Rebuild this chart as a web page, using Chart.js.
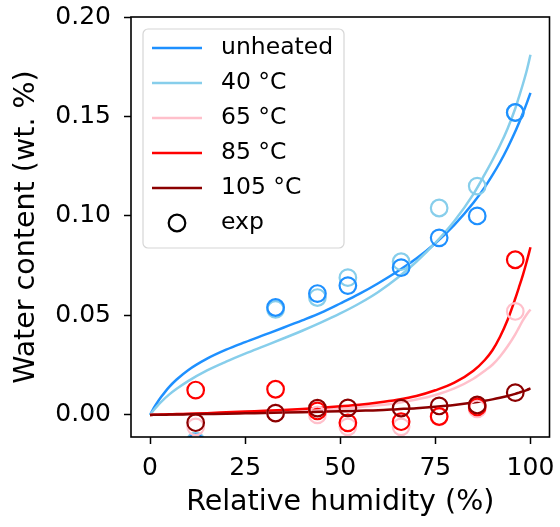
<!DOCTYPE html>
<html>
<head>
<meta charset="utf-8">
<script src="https://cdn.jsdelivr.net/npm/chart.js@4"></script>
<style>
  html, body { margin: 0; padding: 0; background: #fff; }
  canvas { display: block; }
</style>
</head>
<body>
<canvas id="c" width="560" height="527"></canvas>
<script>
// experimental points, relative humidity (%)
const humidity = [12, 33, 44, 52, 66, 76, 86, 96];
const expUnheated = [-0.014, 0.054, 0.061, 0.065, 0.074, 0.089, 0.100, 0.152];
const exp40 = [-0.013, 0.053, 0.059, 0.069, 0.077, 0.104, 0.115, 0.152];
const exp65 = [-0.006, 0.001, 0.000, -0.006, -0.006, -0.001, 0.003, 0.052];
const exp85 = [0.0125, 0.0129, 0.002, -0.004, -0.0034, -0.0008, 0.004, 0.078];
const exp105 = [-0.0039, 0.0009, 0.0034, 0.0035, 0.0034, 0.0045, 0.005, 0.0112];

// fitted curves
const fitRH = [0, 1, 2, 3, 5, 7, 10, 15, 20, 25, 30, 35, 40, 45, 50, 55, 60, 65, 70, 75, 80, 85, 88, 90, 92, 94, 96, 97, 98, 99, 100];
const fitUnheated = [0, 0.0035, 0.0065, 0.0092, 0.0140, 0.0178, 0.0225, 0.0283, 0.0328, 0.0366, 0.0402, 0.0438, 0.0475, 0.0514, 0.0560, 0.0608, 0.0662, 0.0721, 0.0786, 0.0863, 0.0955, 0.1066, 0.1145, 0.1205, 0.1270, 0.1343, 0.1424, 0.1469, 0.1516, 0.1566, 0.1619];
const fit40 = [0, 0.0025, 0.0047, 0.0067, 0.0102, 0.0131, 0.0170, 0.0224, 0.0268, 0.0308, 0.0346, 0.0384, 0.0423, 0.0465, 0.0510, 0.0560, 0.0618, 0.0688, 0.0770, 0.0865, 0.0975, 0.1110, 0.1210, 0.1280, 0.1355, 0.1440, 0.1540, 0.1600, 0.1662, 0.1730, 0.1810];
const fit65 = [0, 0.00004, 0.00008, 0.00012, 0.0002, 0.00028, 0.0004, 0.0006, 0.0009, 0.0012, 0.0015, 0.0018, 0.0022, 0.0026, 0.0031, 0.0039, 0.0048, 0.0060, 0.0077, 0.0100, 0.0133, 0.0182, 0.0222, 0.0252, 0.0294, 0.0345, 0.0405, 0.0440, 0.0475, 0.0505, 0.0530];
const fit85 = [0, 0.00006, 0.00012, 0.00018, 0.0003, 0.0004, 0.0006, 0.0009, 0.0013, 0.0017, 0.0021, 0.0025, 0.0030, 0.0036, 0.0043, 0.0051, 0.0062, 0.0076, 0.0095, 0.0124, 0.0162, 0.0222, 0.0276, 0.0325, 0.0393, 0.0478, 0.0585, 0.0643, 0.0703, 0.0770, 0.0843];
const fit105 = [0, 0.00003, 0.00006, 0.0001, 0.00016, 0.00022, 0.0003, 0.00045, 0.0006, 0.0008, 0.0010, 0.0012, 0.0014, 0.0016, 0.0018, 0.0021, 0.0024, 0.0029, 0.0034, 0.0041, 0.0050, 0.0062, 0.0071, 0.0078, 0.0086, 0.0095, 0.0106, 0.0112, 0.0118, 0.0125, 0.0133];

const seriesLabels = ['unheated', '40 °C', '65 °C', '85 °C', '105 °C'];
const seriesColors = ['#1e90ff', '#87ceeb', '#ffc0cb', '#ff0000', '#8b0000'];
const xTicks = [0, 25, 50, 75, 100];
const yTicks = [0, 0.05, 0.10, 0.15, 0.20];

const FONT = 'DejaVu Sans';
const fits = [fitUnheated, fit40, fit65, fit85, fit105];
const exps = [expUnheated, exp40, exp65, exp85, exp105];
const scatterOrder = [4, 5, 3, 2, 1];

const datasets = [];
fits.forEach((f, i) => {
    datasets.push({
        label: seriesLabels[i],
        data: fitRH.map((x, j) => ({ x: x, y: f[j] })),
        showLine: true,
        borderColor: seriesColors[i],
        borderWidth: 2.5,
        pointRadius: 0,
        cubicInterpolationMode: 'monotone',
        order: 10 - i,
    });
});
exps.forEach((e, i) => {
    datasets.push({
        label: 'exp',
        data: humidity.map((x, j) => ({ x: x, y: e[j] })),
        showLine: false,
        pointRadius: 8.3,
        pointBorderWidth: 2.2,
        pointBorderColor: seriesColors[i],
        pointBackgroundColor: 'rgba(0,0,0,0)',
        order: scatterOrder[i],
    });
});

const noEdgePad = (s) => {
    s.paddingLeft = 0;
    s.paddingRight = 0;
    s.paddingTop = 0;
    s.paddingBottom = 0;
};

const frameAndLegend = {
    id: 'frameAndLegend',
    afterDraw(chart) {
        const ctx = chart.ctx;
        const a = chart.chartArea;
        ctx.save();
        ctx.strokeStyle = '#000';
        ctx.lineWidth = 1.6;
        ctx.strokeRect(a.left, a.top, a.right - a.left, a.bottom - a.top);

        // legend box
        const bx = 143, by = 29, bw = 201, bh = 219, r = 5;
        ctx.beginPath();
        ctx.moveTo(bx + r, by);
        ctx.arcTo(bx + bw, by, bx + bw, by + bh, r);
        ctx.arcTo(bx + bw, by + bh, bx, by + bh, r);
        ctx.arcTo(bx, by + bh, bx, by, r);
        ctx.arcTo(bx, by, bx + bw, by, r);
        ctx.closePath();
        ctx.fillStyle = 'rgba(255,255,255,0.8)';
        ctx.fill();
        ctx.strokeStyle = '#d6d6d6';
        ctx.lineWidth = 1.2;
        ctx.stroke();

        ctx.font = '23.5px "' + FONT + '"';
        ctx.textBaseline = 'middle';
        ctx.textAlign = 'left';
        const rows = seriesLabels.concat(['exp']);
        rows.forEach((lab, i) => {
            const y = 48 + i * 35;
            if (i < seriesLabels.length) {
                ctx.strokeStyle = seriesColors[i];
                ctx.lineWidth = 2.5;
                ctx.beginPath();
                ctx.moveTo(152, y);
                ctx.lineTo(202, y);
                ctx.stroke();
            } else {
                ctx.strokeStyle = '#000';
                ctx.lineWidth = 2.2;
                ctx.beginPath();
                ctx.arc(177, y, 8.3, 0, Math.PI * 2);
                ctx.stroke();
            }
            ctx.fillStyle = '#000';
            ctx.fillText(lab, 221, y);
        });
        ctx.restore();
    },
};

new Chart(document.getElementById('c'), {
    type: 'scatter',
    data: { datasets: datasets },
    plugins: [frameAndLegend],
    options: {
        responsive: false,
        animation: false,
        devicePixelRatio: 1,
        layout: { padding: { top: 17, right: 7, left: 0, bottom: 0 } },
        scales: {
            x: {
                type: 'linear',
                min: -5,
                max: 105,
                afterFit: (s) => { s.height = 90; noEdgePad(s); },
                afterBuildTicks: (s) => { s.ticks = xTicks.map((v) => ({ value: v })); },
                border: { display: false },
                grid: { display: true, drawOnChartArea: false, drawTicks: true, tickLength: 7, tickWidth: 1.5, tickColor: '#000' },
                ticks: { color: '#000', padding: 9, font: { family: FONT, size: 25 }, maxRotation: 0, callback: (v) => String(v) },
                title: { display: true, text: 'Relative humidity (%)', color: '#000', font: { family: FONT, size: 28.5, lineHeight: 1.2 }, padding: { top: 0, bottom: 7 } },
            },
            y: {
                type: 'linear',
                min: -0.0111,
                max: 0.20,
                afterFit: (s) => { s.width = 131; noEdgePad(s); },
                afterBuildTicks: (s) => { s.ticks = yTicks.map((v) => ({ value: v })); },
                border: { display: false },
                grid: { display: true, drawOnChartArea: false, drawTicks: true, tickLength: 7, tickWidth: 1.5, tickColor: '#000' },
                ticks: { color: '#000', padding: 13, font: { family: FONT, size: 25 }, callback: (v) => v.toFixed(2) },
                title: { display: true, text: 'Water content (wt. %)', color: '#000', font: { family: FONT, size: 28.5, lineHeight: 1.2 }, padding: { top: 9, bottom: 0 } },
            },
        },
        plugins: {
            legend: { display: false },
            tooltip: { enabled: false },
        },
    },
});
</script>
</body>
</html>
